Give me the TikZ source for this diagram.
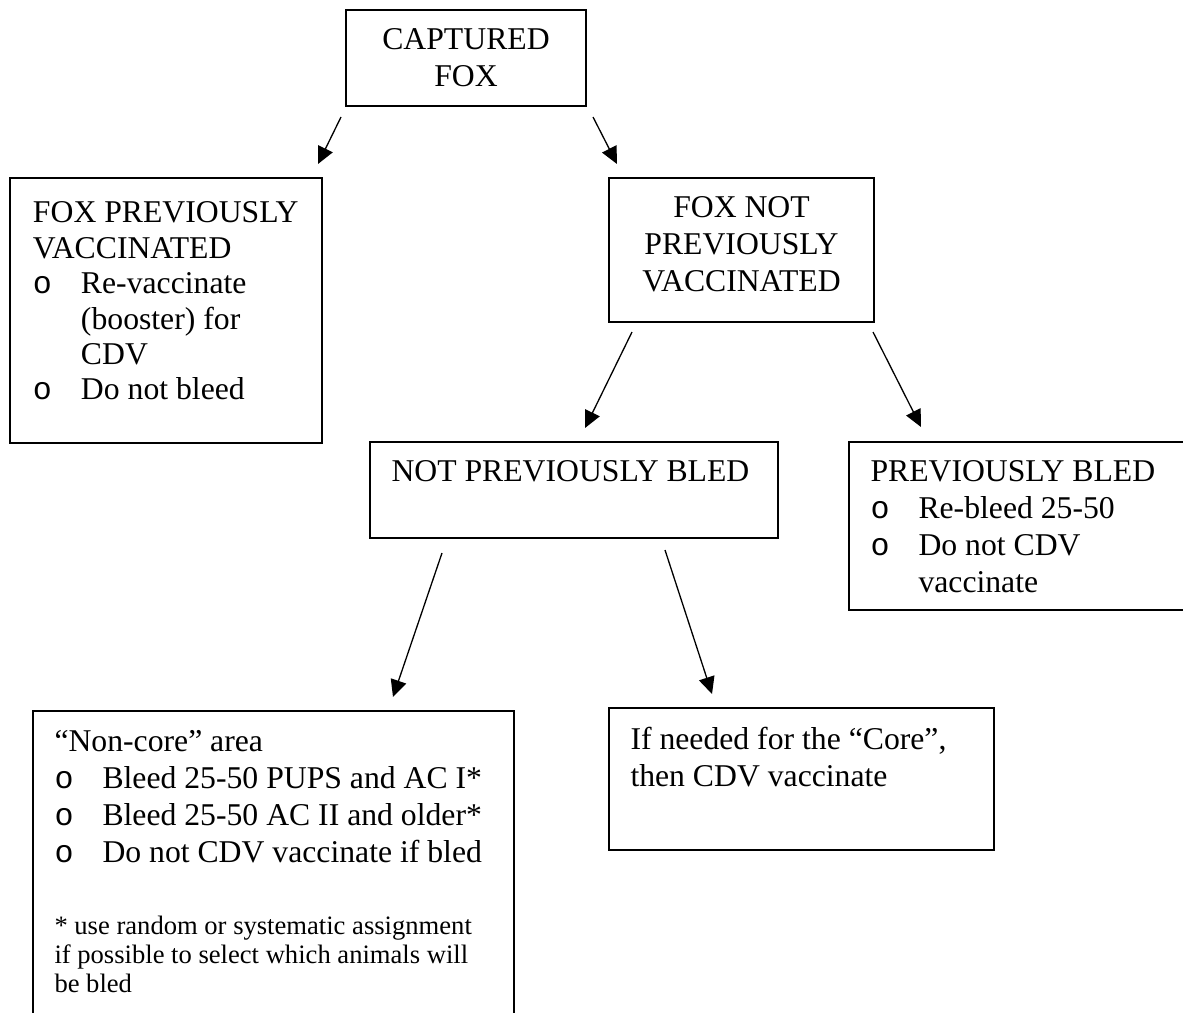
\documentclass[tikz,border=0pt]{standalone}
\usepackage{fontspec}
\setmainfont{Liberation Serif}
\newfontfamily\bulletfont{Liberation Mono}
\usetikzlibrary{arrows.meta,calc}

% box contents: width, height, text (top aligned)
\newcommand{\boxtext}[3]{\begin{minipage}[t][#2][t]{#1}\leftskip=10.75pt\rightskip=0pt plus 1fil\relax #3\end{minipage}}
\newcommand{\itm}{\makebox[24pt][l]{\bulletfont o}}
\newcommand{\cont}{\hspace*{24pt}}

\begin{document}
\begin{tikzpicture}[x=0.5pt, y=-0.5pt]%
  \tikzset{normal arrow/.style={draw,-{Triangle[length=8.5pt,width=8pt]},line width=0.65pt,black}}
  \tikzstyle{every node}=[draw, rectangle, line width=0.75pt, anchor=north west, outer sep=0pt, inner xsep=0pt, inner ysep=9.5pt, font=\fontsize{15.85}{18.5}\selectfont]

  \useasboundingbox (0,0) rectangle (1183,1012);

  \node at (346,10) (cap) {\boxtext{120pt}{29pt}{\centering CAPTURED\\ FOX}};
  \node[inner ysep=12pt, font=\fontsize{15.85}{17.7}\selectfont] at (10,178) (prev) {\boxtext{156pt}{108.5pt}{\leftskip=11.5pt FOX PREVIOUSLY\\ VACCINATED\\ \itm Re-vaccinate\\ \cont (booster) for\\ \cont CDV\\ \itm Do not bleed}};
  \node at (609,178) (fnot) {\boxtext{132.5pt}{53pt}{\centering FOX NOT\\ PREVIOUSLY\\ VACCINATED}};
  \node at (370,442) (npb) {\boxtext{204pt}{29pt}{NOT PREVIOUSLY BLED}};
  \node at (849,442) (pb) {\boxtext{175.5pt}{65pt}{PREVIOUSLY BLED\\ \itm Re-bleed 25-50\\ \itm Do not CDV\\ \cont vaccinate}};
  \node at (33,711) (noncore) {\boxtext{240.5pt}{145.5pt}{“Non-core” area\\ \itm Bleed 25-50 PUPS and AC I*\\ \itm Bleed 25-50 AC II and older*\\ \itm Do not CDV vaccinate if bled\par
    \vspace{21.5pt}
    {\fontsize{13.3}{14.5}\selectfont * use random or systematic assignment\\ if possible to select which animals will\\ be bled\par}}};
  \node at (609,708) (ifn) {\boxtext{192.5pt}{52pt}{If needed for the “Core”,\\ then CDV vaccinate}};

  \path[normal arrow] ($(cap.south west)+(-5,11)$) -- ($(prev.north east)+(-4,-14)$);
  \path[normal arrow] ($(cap.south east)+(7,11)$) -- ($(fnot.north west)+(8,-14)$);
  \path[normal arrow] ($(fnot.south west)+(23,10)$) -- ($(npb.north)+(11,-14)$);
  \path[normal arrow] ($(fnot.south east)+(-1,10)$) -- ($(pb.north west)+(72,-15)$);
  \path[normal arrow] ($(npb.south)+(-132,15)$) -- ($(noncore.north east)+(-121,-14)$);
  \path[normal arrow] ($(npb.south)+(91,12)$) -- ($(ifn.north west)+(103,-14)$);
\end{tikzpicture}
\end{document}
